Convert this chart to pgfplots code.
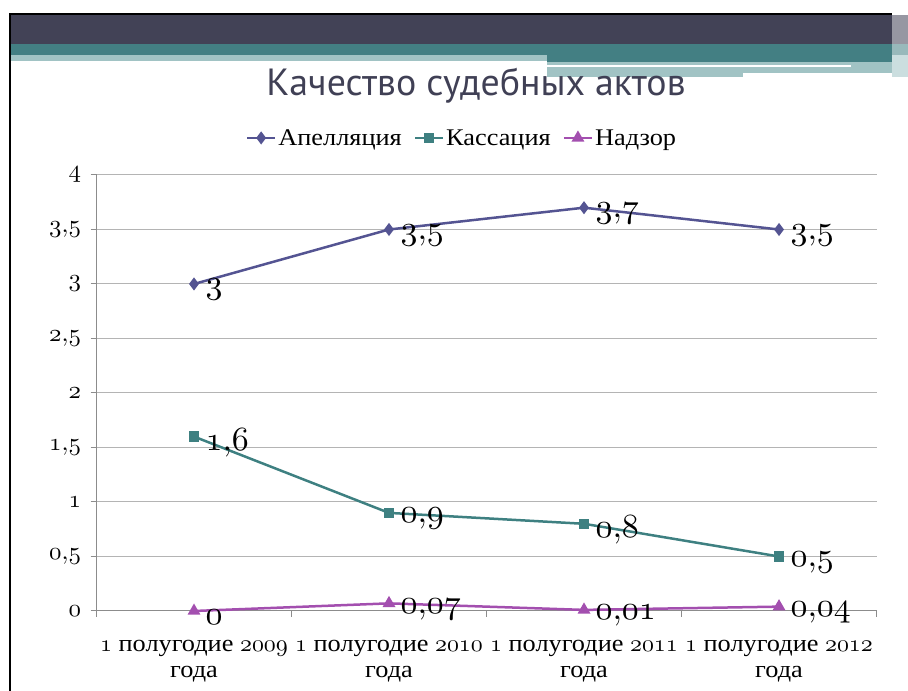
\documentclass[border=0pt]{standalone}
\usepackage{pgfplots}
\pgfplotsset{compat=1.18}
\usepackage{fontspec}
\setmainfont{Liberation Serif}[FakeStretch=1.1]
\newfontfamily\titlefont{PT Sans}
\DeclareFontShape{OML}{cmm}{m}{it}{<->cmmi10}{}
\definecolor{apel}{HTML}{545492}
\definecolor{kass}{HTML}{3E8081}
\definecolor{nadz}{HTML}{A34FAF}
\definecolor{band}{HTML}{424256}
\definecolor{tealb}{HTML}{437F83}
\definecolor{lteal}{HTML}{A1C3C4}
\definecolor{titlec}{HTML}{404055}
\definecolor{axisgray}{HTML}{8C8C8C}
\definecolor{gridgray}{HTML}{B4B4B4}
\newcommand\os[1]{\ensuremath{\mathnormal{#1}}}
\begin{document}
\begin{tikzpicture}
\begin{scope}[x=1bp,y=1bp]
\path[use as bounding box] (0,0) rectangle (908,691);
\fill[band] (11,647) rectangle (892,676);
\fill[tealb] (11,636) rectangle (892,647);
\fill[tealb] (547,629) rectangle (892,636);
\fill[lteal] (11,630) rectangle (547,636);
\fill[lteal] (547,614) rectangle (743,629);
\fill[lteal] (743,618) rectangle (892,629);
\fill[white] (547,624) rectangle (851,625.5);
\fill[band!55!white] (892,647) rectangle (908,676);
\fill[tealb!55!white] (892,636) rectangle (908,647);
\fill[lteal!55!white] (892,614) rectangle (908,636);
\draw[black,line width=2bp] (10,0) -- (10,677) -- (892,677);
\node[font=\titlefont\fontsize{38}{44}\selectfont, text=titlec] at (476,605) {Качество судебных актов};
\end{scope}
\begin{axis}[
  at={(96.5bp,80bp)}, anchor=south west,
  scale only axis, width=780bp, height=436bp,
  xmin=-0.5, xmax=3.5, ymin=0, ymax=4,
  clip=false,
  axis lines=left,
  axis line style={-, draw=axisgray, line width=1bp},
  ymajorgrids, grid style={draw=gridgray, line width=1bp},
  tick align=outside,
  major tick length=6bp, minor tick length=6bp,
  ytick={0,0.5,1,1.5,2,2.5,3,3.5,4},
  xtick={0,1,2,3},
  major x tick style={draw=none},
  minor xtick={-0.5,0.5,1.5,2.5,3.5},
  minor x tick style={draw=axisgray, line width=1bp},
  y tick style={draw=axisgray, line width=1bp},
  xticklabels={{\os{1} полугодие \os{2009}\\года},{\os{1} полугодие \os{2010}\\года},{\os{1} полугодие \os{2011}\\года},{\os{1} полугодие \os{2012}\\года}},
  xticklabel style={align=center, font=\fontsize{24}{26}\selectfont, yshift=-20bp},
  yticklabel={\os{\pgfmathprintnumber[assume math mode=true,fixed,use comma,precision=2]{\tick}}},
  yticklabel style={font=\fontsize{25}{28}\selectfont, xshift=-6bp},
  legend columns=3,
  legend style={at={(0.4686,1.085)}, anchor=center, draw=none, fill=none,
    font=\fontsize{24}{26}\selectfont,
    /tikz/every even column/.append style={column sep=10bp}},
  legend image code/.code={\draw[mark repeat=2,mark phase=2,#1] plot coordinates {(0bp,0bp)(14bp,0bp)(28bp,0bp)};},
  nodes near coords={\os{\pgfmathprintnumber[assume math mode=true,fixed,use comma,precision=2]{\pgfplotspointmeta}}},
  every node near coord/.append style={anchor=west, xshift=7bp, yshift=-6bp, text=black, font=\fontsize{34}{40}\selectfont},
]
\addplot[apel, line width=2.5bp, mark=diamond*, mark size=4.5bp, mark options={fill=apel, solid}] coordinates {(0,3)(1,3.5)(2,3.7)(3,3.5)};
\addlegendentry{Апелляция}
\addplot[kass, line width=2.5bp, mark=square*, mark size=4bp, mark options={fill=kass, solid}] coordinates {(0,1.6)(1,0.9)(2,0.8)(3,0.5)};
\addlegendentry{Кассация}
\addplot[nadz, line width=2.5bp, mark=triangle*, mark size=5bp, mark options={fill=nadz, solid}] coordinates {(0,0)(1,0.07)(2,0.01)(3,0.04)};
\addlegendentry{Надзор}
\end{axis}
\end{tikzpicture}
\end{document}
